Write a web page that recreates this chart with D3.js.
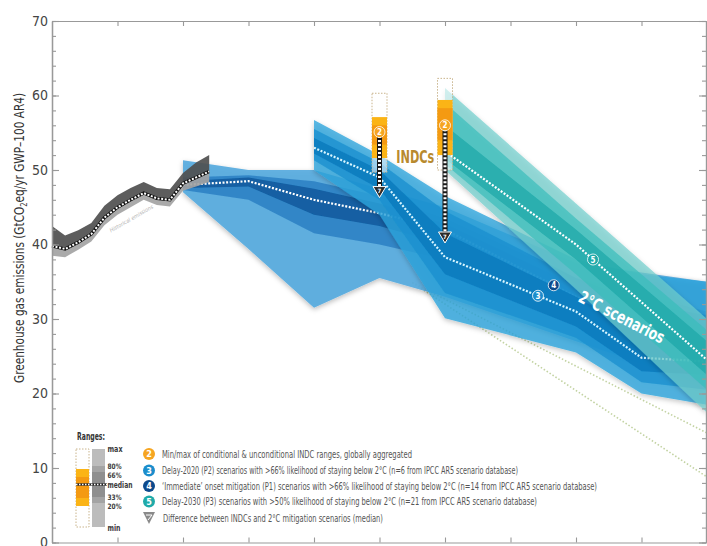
<!DOCTYPE html>
<html><head><meta charset="utf-8">
<script src="https://cdn.jsdelivr.net/npm/d3@7"></script>
<style>body{margin:0;background:#fff}svg{display:block}</style>
</head><body><svg id="c" width="707" height="546"></svg>
<script>
// ---------- DATA ----------
const histYears  = [2000,2001,2002,2003,2004,2005,2006,2007,2008,2009,2010,2011,2012];
const histMedian = [39.8,39.4,40.3,41.4,43.6,45.0,46.0,46.9,46.2,46.0,48.2,49.0,49.8];
const histUpper  = [42.5,41.2,41.9,42.9,45.2,46.6,47.6,48.4,47.6,47.4,49.6,51.0,52.0];
const histLower  = [38.5,38.3,39.3,40.4,42.6,44.0,45.0,46.0,45.3,45.1,47.2,47.8,48.4];

const p1Years  = [2010,2015,2020,2025,2030,2040,2050];
const p1Max    = [51.3,50.0,50.0,47.5,45.0,37.5,35.0];
const p1P80    = [49.0,49.3,48.5,46.5,43.5,35.5,31.0];
const p1P66    = [48.5,49.0,47.5,45.5,42.8,34.5,29.5];
const p1Median = [48.0,48.5,46.0,44.2,42.0,33.0,27.5];
const p1P33    = [47.6,47.8,44.0,42.5,40.0,31.5,25.5];
const p1P20    = [47.3,46.0,41.5,40.0,38.0,30.0,23.5];
const p1Min    = [47.0,39.4,31.5,35.5,33.0,27.0,21.0];

const p2Years  = [2020,2025,2030,2040,2045,2050];
const p2Max    = [56.7,52.0,46.5,38.0,36.0,35.0];
const p2P80    = [55.5,51.0,44.5,35.5,32.0,30.5];
const p2P66    = [54.3,50.0,41.5,33.0,28.0,27.0];
const p2Median = [53.0,49.0,38.3,31.0,24.8,24.3];
const p2P33    = [52.2,47.5,36.0,29.0,23.0,22.5];
const p2P20    = [51.3,46.0,33.5,27.5,21.5,20.5];
const p2Min    = [50.0,44.0,30.1,25.5,20.0,18.5];

const p3Years  = [2030,2040,2050];
const p3Max    = [61.0,45.5,30.0];
const p3P80    = [59.0,43.5,28.5];
const p3P66    = [56.0,42.0,27.0];
const p3Median = [52.5,40.0,24.5];
const p3P33    = [51.5,38.0,22.5];
const p3P20    = [50.8,36.0,20.5];
const p3Min    = [50.0,34.0,17.4];

const greenYears = [2027.5,2050];
const greenA     = [34.9,14.7];
const greenB     = [34.9,8.8];

const indcYears  = [2025,2030];
const indcMin    = [49.7,50.0];
const indcP20    = [51.6,52.0];
const indcP33    = [53.4,54.0];
const indcMedian = [55.1,56.0];
const indcP66    = [56.0,58.3];
const indcP80    = [57.1,59.4];
const indcMax    = [60.3,62.3];
const gapTarget  = [46.3,40.2];

const markerLabels = ["3","4","5"];
const markerYears  = [2037.1,2038.3,2041.3];

const yTicks = [0,10,20,30,40,50,60,70];
const xTicks = [2005,2010,2015,2020,2025,2030,2035,2040,2045];

const legendItems = [
  "Min/max of conditional & unconditional INDC ranges, globally aggregated",
  "Delay-2020 (P2) scenarios with >66% likelihood of staying below 2°C (n=6 from IPCC AR5 scenario database)",
  "‘Immediate’ onset mitigation (P1) scenarios with >66% likelihood of staying below 2°C (n=14 from IPCC AR5 scenario database)",
  "Delay-2030 (P3) scenarios with >50% likelihood of staying below 2°C (n=21 from IPCC AR5 scenario database)",
  "Difference between INDCs and 2°C mitigation scenarios (median)"
];
const legendMarks = ["2","3","4","5","▼"];
const rangeLabels = ["max","80%","66%","median","33%","20%","min"];

// ---------- DRAW ----------
const FONT = "'Liberation Sans Narrow','DejaVu Sans Condensed','Roboto Condensed','Open Sans',sans-serif";
const svg = d3.select("#c");
const x = d3.scaleLinear().domain([2000,2050]).range([52,707]);
const y = d3.scaleLinear().domain([0,70]).range([542.5,21]);

const defs = svg.append("defs");
const flt = defs.append("filter").attr("id","sh").attr("x","-10%").attr("y","-10%").attr("width","130%").attr("height","140%");
flt.append("feDropShadow").attr("dx",0).attr("dy",2).attr("stdDeviation",2.5).attr("flood-color","#000").attr("flood-opacity",0.28);

// green dotted lines
[greenA, greenB].forEach(v=>{
  svg.append("path")
    .attr("d", d3.line().x((d,i)=>x(greenYears[i])).y(d=>y(d))(v))
    .attr("fill","none").attr("stroke","#c3d3a3").attr("stroke-width",1.6).attr("stroke-dasharray","1.5,2");
});

function scenario(years, mn, p20, p33, md, p66, p80, mx, cols, op, medCol){
  const d = years.map((yr,i)=>({yr, mn:mn[i], p20:p20[i], p33:p33[i], md:md[i], p66:p66[i], p80:p80[i], mx:mx[i]}));
  const g = svg.append("g").attr("filter","url(#sh)");
  const ar = (a,b)=>d3.area().x(e=>x(e.yr)).y0(e=>y(e[a])).y1(e=>y(e[b]))(d);
  g.append("path").attr("d",ar("mn","mx")).attr("fill",cols[0]).attr("fill-opacity",op);
  g.append("path").attr("d",ar("p20","p80")).attr("fill",cols[1]).attr("fill-opacity",op);
  g.append("path").attr("d",ar("p33","p66")).attr("fill",cols[2]).attr("fill-opacity",op);
  svg.append("path").attr("d", d3.line().x(e=>x(e.yr)).y(e=>y(e.md))(d))
    .attr("fill","none").attr("stroke",medCol).attr("stroke-width",2.2).attr("stroke-dasharray","2,1.6");
}
scenario(p1Years,p1Min,p1P20,p1P33,p1Median,p1P66,p1P80,p1Max,["#56aade","#2f83c6","#0f5c9f"],0.92,"#ffffff");
scenario(p2Years,p2Min,p2P20,p2P33,p2Median,p2P66,p2P80,p2Max,["#2aa4dc","#1890cf","#0d78bc"],0.78,"#d8f6ff");
scenario(p3Years,p3Min,p3P20,p3P33,p3Median,p3P66,p3P80,p3Max,["#6fcfcd","#3bbdbb","#18a7a7"],0.7,"#ffffff");

// historical
const hist = histYears.map((yr,i)=>({yr, lo:histLower[i], md:histMedian[i], hi:histUpper[i]}));
svg.append("path").attr("d", d3.area().x(d=>x(d.yr)).y0(d=>y(d.md)).y1(d=>y(d.hi))(hist)).attr("fill","#4f4f4f").attr("fill-opacity",0.92);
svg.append("path").attr("d", d3.area().x(d=>x(d.yr)).y0(d=>y(d.lo)).y1(d=>y(d.md))(hist)).attr("fill","#a3a3a3").attr("fill-opacity",0.92);
const hl = d3.line().x(d=>x(d.yr)).y(d=>y(d.md))(hist);
svg.append("path").attr("d",hl).attr("fill","none").attr("stroke","#111").attr("stroke-width",3.2);
svg.append("path").attr("d",hl).attr("fill","none").attr("stroke","#fff").attr("stroke-width",2).attr("stroke-dasharray","2,1.6");
svg.append("text").attr("transform",`translate(${x(2004.5)},${y(41.6)}) rotate(-30)`)
  .attr("font-family",FONT).attr("font-size",5.5).attr("fill","#b5b5b5").attr("font-style","italic").text("Historical emissions");

// INDC bars
const bw = 15;
indcYears.forEach((yr,i)=>{
  const cx = x(yr);
  svg.append("rect").attr("x",cx-bw/2).attr("width",bw).attr("y",y(indcMax[i])).attr("height",y(indcMin[i])-y(indcMax[i]))
    .attr("fill","#fff").attr("fill-opacity",0.55).attr("stroke","#c9b48c").attr("stroke-width",1).attr("stroke-dasharray","1.5,1.5");
  svg.append("rect").attr("x",cx-bw/2).attr("width",bw).attr("y",y(indcP80[i])).attr("height",y(indcP20[i])-y(indcP80[i])).attr("fill","#fbb416");
  svg.append("rect").attr("x",cx-bw/2).attr("width",bw).attr("y",y(indcP66[i])).attr("height",y(indcP33[i])-y(indcP66[i])).attr("fill","#f49a12");
  const y0 = y(indcMedian[i]), y1 = y(gapTarget[i]);
  svg.append("line").attr("x1",cx).attr("x2",cx).attr("y1",y0).attr("y2",y1-9).attr("stroke","#1a1a1a").attr("stroke-width",5);
  svg.append("line").attr("x1",cx).attr("x2",cx).attr("y1",y0).attr("y2",y1-9).attr("stroke","#fff").attr("stroke-width",3).attr("stroke-dasharray","2,2");
  svg.append("path").attr("d",`M${cx-6.5},${y1-11}L${cx+6.5},${y1-11}L${cx},${y1}Z`).attr("fill","#2b2b2b").attr("stroke","#fff").attr("stroke-width",1);
  svg.append("text").attr("x",cx).attr("y",y1-4.5).attr("text-anchor","middle").attr("font-family",FONT).attr("font-size",6).attr("font-weight","bold").attr("fill","#fff").text("7");
  svg.append("circle").attr("cx",cx).attr("cy",y0).attr("r",5.5).attr("fill","#f6a521").attr("stroke","#fff").attr("stroke-width",0.8);
  svg.append("text").attr("x",cx).attr("y",y0+3).attr("text-anchor","middle").attr("font-family",FONT).attr("font-size",8).attr("font-weight","bold").attr("fill","#fff").text("2");
});
svg.append("text").attr("x",(x(2025)+x(2030))/2+3).attr("y",163).attr("text-anchor","middle")
  .attr("font-family",FONT).attr("font-size",17).attr("font-weight","bold").attr("fill","#b88a2e")
  .attr("textLength",38).attr("lengthAdjust","spacingAndGlyphs").text("INDCs");

// scenario markers
const medians = [[p2Years,p2Median],[p1Years,p1Median],[p3Years,p3Median]];
const mcols = ["#1b8dcc","#0d4a8c","#1faaa9"];
markerYears.forEach((yr,i)=>{
  const interp = d3.scaleLinear().domain(medians[i][0]).range(medians[i][1]);
  const cx = x(yr), cy = y(interp(yr));
  svg.append("circle").attr("cx",cx).attr("cy",cy).attr("r",5.5).attr("fill",mcols[i]).attr("stroke","#fff").attr("stroke-width",0.8);
  svg.append("text").attr("x",cx).attr("y",cy+3).attr("text-anchor","middle").attr("font-family",FONT).attr("font-size",8).attr("font-weight","bold").attr("fill","#fff").text(markerLabels[i]);
});
svg.append("text").attr("transform",`translate(${x(2040.1)},${y(32.4)}) rotate(27)`)
  .attr("font-family",FONT).attr("font-size",17).attr("font-weight","bold").attr("fill","#fff")
  .attr("textLength",94).attr("lengthAdjust","spacingAndGlyphs").text("2°C scenarios");

// axes
function styleAxis(g){
  g.select(".domain").attr("stroke","#999").attr("stroke-width",1.2);
  g.selectAll(".tick line").attr("stroke","#999").attr("stroke-width",1.1);
  g.selectAll("text").attr("font-family",FONT).attr("font-size",14).attr("fill","#444");
}
const minor = d3.range(0,71,2);
svg.append("g").attr("transform","translate(52,0)").call(d3.axisRight(y).tickValues(minor).tickSize(4).tickSizeOuter(0).tickFormat("")).call(styleAxis);
svg.append("g").attr("transform","translate(52,0)").call(d3.axisRight(y).tickValues(yTicks).tickSize(7).tickSizeOuter(0).tickFormat("")).call(styleAxis);
svg.append("g").attr("transform","translate(52,0)").call(d3.axisLeft(y).tickValues(yTicks).tickSize(0).tickSizeOuter(0).tickPadding(4)).call(styleAxis);
svg.append("g").attr("transform","translate(706,0)").call(d3.axisLeft(y).tickValues(minor).tickSize(4).tickSizeOuter(0).tickFormat("")).call(styleAxis);
svg.append("g").attr("transform","translate(706,0)").call(d3.axisLeft(y).tickValues(yTicks).tickSize(7).tickSizeOuter(0).tickFormat("")).call(styleAxis);
svg.append("g").attr("transform","translate(0,21)").call(d3.axisBottom(x).tickValues(xTicks).tickSize(5).tickSizeOuter(0).tickFormat("")).call(styleAxis);
svg.append("g").attr("transform","translate(0,542.5)").call(d3.axisTop(x).tickValues(xTicks).tickSize(5).tickSizeOuter(0).tickFormat("")).call(styleAxis);

// y label
const yl = svg.append("text").attr("transform","translate(24,238) rotate(-90)").attr("text-anchor","middle")
  .attr("font-family",FONT).attr("font-size",14).attr("fill","#333")
  .attr("textLength",290).attr("lengthAdjust","spacingAndGlyphs");
yl.append("tspan").text("Greenhouse gas emissions (GtCO");
yl.append("tspan").attr("font-size",9).attr("dy",3).text("2");
yl.append("tspan").attr("dy",-3).text("eq/yr GWP\u2013100 AR4)");

// legend
const lg = svg.append("g").attr("font-family",FONT);
lg.append("text").attr("x",77).attr("y",440).attr("font-size",10.5).attr("font-weight","bold").attr("fill","#333")
  .attr("textLength",28).attr("lengthAdjust","spacingAndGlyphs").text("Ranges:");
// INDC legend bar
lg.append("rect").attr("x",76).attr("y",449).attr("width",13).attr("height",78).attr("fill","#fff").attr("stroke","#c9b48c").attr("stroke-dasharray","1.5,1.5");
lg.append("rect").attr("x",76).attr("y",469).attr("width",13).attr("height",37).attr("fill","#fbb416");
lg.append("rect").attr("x",76).attr("y",477).attr("width",13).attr("height",21).attr("fill","#f49a12");
// gray legend bar
lg.append("rect").attr("x",92).attr("y",449).attr("width",13).attr("height",78).attr("fill","#bcbcbc");
lg.append("rect").attr("x",92).attr("y",466).attr("width",13).attr("height",37).attr("fill","#a4a4a4");
lg.append("rect").attr("x",92).attr("y",472).attr("width",13).attr("height",25).attr("fill","#8f8f8f");
lg.append("line").attr("x1",76).attr("x2",107).attr("y1",484.5).attr("y2",484.5).attr("stroke","#222").attr("stroke-width",2.4);
lg.append("line").attr("x1",76).attr("x2",107).attr("y1",484.5).attr("y2",484.5).attr("stroke","#fff").attr("stroke-width",1.6).attr("stroke-dasharray","1.5,1.5");
const rlY = [451.5,468.5,477.5,488,499.5,508.5,531];
const rlS = [9.5,7.5,7.5,9.5,7.5,7.5,9.5];
const rlW = [15,14,14,25,14,14,13];
rangeLabels.forEach((t,i)=>lg.append("text").attr("x",107.5).attr("y",rlY[i]).attr("font-size",rlS[i]).attr("font-weight","bold").attr("fill","#3a3a3a")
  .attr("textLength",rlW[i]).attr("lengthAdjust","spacingAndGlyphs").text(t));
const itemY = [454,470.5,486,501.5,518];
const itemCols = ["#f6a521","#1b8dcc","#0d4a8c","#1faaa9"];
const itemW = [250,356,435,375,220];
legendItems.forEach((t,i)=>{
  if(i<4){
    lg.append("circle").attr("cx",149).attr("cy",itemY[i]).attr("r",6).attr("fill",itemCols[i]);
    lg.append("text").attr("x",149).attr("y",itemY[i]+3.2).attr("text-anchor","middle").attr("font-size",9).attr("font-weight","bold").attr("fill","#fff").text(legendMarks[i]);
  } else {
    lg.append("path").attr("d",`M${143},${itemY[i]-6}L${155},${itemY[i]-6}L${149},${itemY[i]+6}Z`).attr("fill","#8a8a8a");
    lg.append("path").attr("d",`M${146},${itemY[i]-3}L${152},${itemY[i]-3}L${148},${itemY[i]+2}`).attr("fill","none").attr("stroke","#fff").attr("stroke-width",1);
  }
  lg.append("text").attr("x",i<4?162:163).attr("y",itemY[i]+3.5).attr("font-size",10.5).attr("fill","#555")
    .attr("textLength",itemW[i]).attr("lengthAdjust","spacingAndGlyphs").text(t);
});
</script>
</body></html>
